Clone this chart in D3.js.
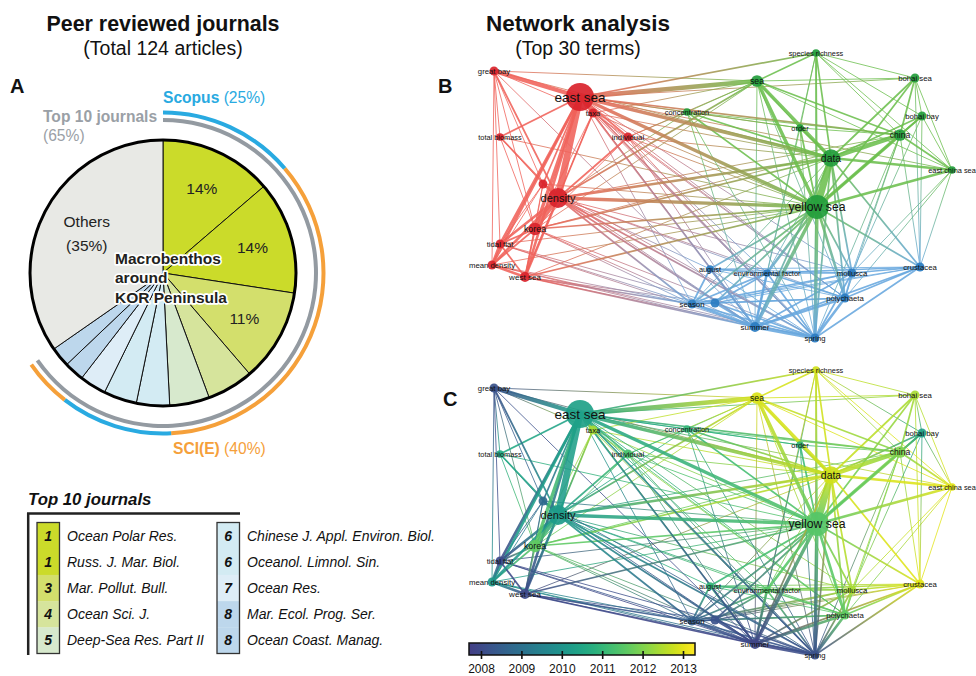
<!DOCTYPE html>
<html>
<head>
<meta charset="utf-8">
<script src="https://cdn.jsdelivr.net/npm/d3@7"></script>
<style>
  body { margin: 0; background: #fff; }
  svg text { font-family: "Liberation Sans", Arial, sans-serif; }
</style>
</head>
<body>
<svg id="chart" width="976" height="676"></svg>
<script>
// ---- panel A data (124 articles) ----
const journals = ["Ocean Polar Res.", "Russ. J. Mar. Biol.", "Mar. Pollut. Bull.", "Ocean Sci. J.",
  "Deep-Sea Res. Part II", "Chinese J. Appl. Environ. Biol.", "Oceanol. Limnol. Sin.", "Ocean Res.",
  "Mar. Ecol. Prog. Ser.", "Ocean Coast. Manag."];
const ranks = [1, 1, 3, 4, 5, 6, 6, 7, 8, 8];
const articles = [17, 17, 14, 7, 6, 5, 5, 4, 3, 3];
const journalIndex = ["Scopus", "SCI(E)", "SCI(E)", "SCI(E)", "SCI(E)", "Scopus", "Scopus", "Scopus", "SCI(E)", "SCI(E)"];
const othersArticles = 43;

// ---- panel B/C data (top 30 terms, VOSviewer map units) ----
const termKeys = ["es", "gb", "tb", "tx", "in", "co", "ds", "un1", "ko", "tf", "md", "ws",
  "se", "un2", "au", "ef", "mo", "po", "cr", "su", "sp",
  "ys", "da", "ch", "ec", "bb", "bs", "or", "sa", "sr"];
const termLabels = ["east sea", "great bay", "total biomass", "taxa", "individual", "concentration", "density", null,
  "korea", "tidal flat", "mean density", "west sea",
  "season", null, "august", "environmental factor", "mollusca", "polychaeta", "crustacea", "summer", "spring",
  "yellow sea", "data", "china", "east china sea", "bohai bay", "bohai sea", "order", "sea", "species richness"];
const termMapX = [120, 34, 40, 133, 168, 227, 98, 83, 75, 40, 32, 65,
  232, 255, 250, 307, 392, 385, 460, 295, 355,
  357, 371, 440, 492, 462, 455, 340, 297, 356];
const termMapY = [47, 21, 87, 63, 87, 62, 148, 134, 179, 194, 215, 227,
  254, 253, 219, 223, 223, 248, 217, 277, 288,
  157, 108, 85, 120, 66, 28, 78, 31, 3];
const termOccurrences = [40, 4, 3, 4, 4, 3, 20, 4, 8, 4, 4, 5,
  4, 4, 3, 3, 4, 4, 4, 5, 4,
  29, 16, 7, 3, 4, 4, 3, 7, 3];
const termCluster = [1, 1, 1, 1, 1, 2, 1, 1, 1, 1, 1, 1,
  3, 3, 3, 3, 3, 3, 3, 3, 3,
  2, 2, 2, 2, 2, 2, 2, 2, 2];
const termAvgYear = [2010.35, 2008.2, 2010.6, 2012.4, 2011.3, 2011.0, 2010.2, 2008.8, 2011.6, 2008.0, 2010.1, 2008.0,
  2008.5, 2008.2, 2011.0, 2011.5, 2012.4, 2011.6, 2013.0, 2007.9, 2008.2,
  2011.5, 2012.8, 2012.0, 2013.0, 2010.3, 2012.4, 2011.0, 2012.9, 2012.8];

const links = [
  // red cluster
  ["es","ds",8],["es","gb",5],["es","tx",3],["es","in",2],["es","tb",2],["es","ko",4],["es","tf",3],["es","md",3],["es","ws",3],["es","un1",2],
  ["gb","tb",1],["gb","ds",2],["gb","ko",1],["gb","un1",1],["gb","md",1],["gb","tf",1],["gb","tx",1],
  ["tb","ds",2],["tb","ko",1],["tb","un1",1],
  ["tx","ds",2],["tx","ko",1],["tx","ws",1],["tx","in",1],
  ["in","ds",2],["in","ko",1],
  ["ds","ko",5],["ds","tf",3],["ds","md",3],["ds","ws",3],["ds","un1",2],
  ["ko","tf",2],["ko","md",2],["ko","ws",2],["ko","un1",1],
  ["tf","md",3],["tf","ws",2],["md","ws",3],["un1","tf",1],["un1","md",1],["un1","ws",1],
  // green cluster
  ["da","ys",8],["da","sa",4],["da","ch",5],["da","or",2],["da","sr",2],["da","bs",2],["da","bb",2],["da","ec",3],["da","co",2],
  ["ys","sa",4],["ys","ch",4],["ys","bs",2],["ys","bb",2],["ys","ec",3],["ys","or",2],["ys","sr",2],["ys","co",2],
  ["sa","sr",2],["sa","bs",1],["sa","ch",2],["sa","or",1],["sa","co",1],["sa","ec",1],
  ["sr","bs",1],["sr","ch",1],["sr","or",1],["sr","ec",1],["sr","bb",1],
  ["ch","bs",2],["ch","bb",2],["ch","ec",2],["ch","or",1],["bs","bb",1],["bs","ec",1],["bb","ec",1],["co","ch",1],["co","or",1],
  // blue cluster
  ["su","sp",4],["su","se",3],["su","au",2],["su","ef",3],["su","mo",2],["su","po",3],["su","cr",2],["su","un2",2],
  ["sp","se",2],["sp","au",1],["sp","ef",2],["sp","mo",2],["sp","po",3],["sp","cr",2],["sp","un2",2],
  ["se","au",2],["se","ef",2],["se","mo",2],["se","po",2],["se","cr",1],["se","un2",2],
  ["au","ef",2],["au","mo",1],["au","po",1],["au","cr",1],
  ["un2","ef",2],["un2","mo",1],["un2","po",1],["un2","cr",1],
  ["ef","mo",2],["ef","po",2],["ef","cr",2],["mo","po",2],["mo","cr",2],["po","cr",2],
  // red - green
  ["es","sa",5],["es","da",4],["es","ys",4],["es","co",1],["es","sr",2],["es","ch",2],["es","or",1],["es","bs",1],["es","ec",1],
  ["ds","ys",4],["ds","da",3],["ds","sa",2],["ds","ch",1],["ds","co",1],
  ["ko","ys",2],["ko","da",2],["ko","sa",1],["ko","ch",1],
  ["tx","sa",1],["tx","da",1],["tx","ys",1],["in","ys",1],["in","da",1],["in","sa",1],["in","co",1],
  ["ws","ys",2],["ws","da",1],["md","ys",1],["tf","ys",1],["gb","sa",1],["gb","da",1],["tb","ys",1],["un1","ys",1],
  // red - blue
  ["ds","su",2],["ds","sp",2],["ds","se",2],["ds","ef",1],["ds","po",1],["ds","mo",1],["ds","au",1],
  ["ko","su",1],["ko","se",1],["ko","sp",1],
  ["ws","su",2],["ws","sp",1],["ws","se",2],["ws","un2",1],
  ["md","su",1],["md","se",1],["md","sp",1],["tf","su",1],["tf","se",1],["tf","un2",1],
  ["es","su",2],["es","sp",2],["es","po",1],["es","se",1],["es","ef",1],["es","mo",1],
  ["tx","su",1],["tx","sp",1],["tx","po",1],["in","su",1],["in","sp",1],["in","po",1],
  ["gb","su",1],["un1","su",1],["un1","sp",1],
  // green - blue
  ["ys","su",4],["ys","sp",4],["ys","po",3],["ys","mo",2],["ys","cr",2],["ys","ef",3],["ys","se",2],["ys","au",2],["ys","un2",2],
  ["da","su",2],["da","sp",2],["da","po",2],["da","mo",2],["da","cr",2],["da","ef",1],["da","se",1],
  ["ch","cr",1],["ch","po",1],["ch","mo",1],["ch","sp",1],["ec","cr",1],["ec","po",1],["ec","mo",1],
  ["bb","cr",1],["bb","mo",1],["bs","cr",1],["sr","sp",1],["sr","su",1],["sa","su",1],["sa","sp",1],["sa","po",1],
  ["or","su",1],["or","sp",1],["co","su",1],["co","sp",1]
];

const colorbarYears = [2008, 2009, 2010, 2011, 2012, 2013];

// ---------------------------------------------------------------
const svg = d3.select("#chart");
const defs = svg.append("defs");

// titles
function title(x, y1, t1, t2, s1) {
  svg.append("text").attr("x", x).attr("y", y1).attr("text-anchor", "middle")
    .attr("font-size", s1).attr("font-weight", "bold").attr("fill", "#111").text(t1);
  svg.append("text").attr("x", x).attr("y", y1 + 24).attr("text-anchor", "middle")
    .attr("font-size", 19.5).attr("fill", "#111").text(t2);
}
title(163, 31, "Peer reviewed journals", `(Total ${d3.sum(articles) + othersArticles} articles)`, 21.4);
title(578, 31, "Network analysis", `(Top ${termKeys.length} terms)`, 22.5);

[["A", 10, 93], ["B", 438, 93], ["C", 443, 406]].forEach(([t, x, y]) => {
  svg.append("text").attr("x", x).attr("y", y).attr("font-size", 20).attr("font-weight", "bold").attr("fill", "#111").text(t);
});

// ---- pie ----
const cx = 163, cy = 273, R = 133;
const total = d3.sum(articles) + othersArticles;
const pieData = journals.map((j, i) => ({ name: j, rank: ranks[i], n: articles[i], db: journalIndex[i] }))
  .concat([{ name: "Others", rank: 0, n: othersArticles, db: null }]);
const arcs = d3.pie().sort(null).value(d => d.n)(pieData);

const rankColor = d3.scaleOrdinal()
  .domain([0, 1, 3, 4, 5, 6, 7, 8])
  .range(["#e8e9e5", "#cbdb2a", "#d3df6c", "#d6e49c", "#d7e9cd", "#d3ebf3", "#deedf7", "#bdd7ec"]);
const dbColor = { "Scopus": "#29aae1", "SCI(E)": "#f5a03a" };

const gA = svg.append("g").attr("transform", `translate(${cx},${cy})`);
const arc = d3.arc().innerRadius(0).outerRadius(R);
gA.selectAll("path.slice").data(arcs).join("path")
  .attr("class", "slice")
  .attr("d", arc)
  .attr("fill", d => rankColor(d.data.rank))
  .attr("stroke", "#111").attr("stroke-width", 1).attr("stroke-linejoin", "round");
gA.append("circle").attr("r", R).attr("fill", "none").attr("stroke", "#000").attr("stroke-width", 3);

const labelArc = d3.arc().innerRadius(93).outerRadius(93);
gA.selectAll("text.pct").data(arcs.filter(d => d.data.db && d.data.n / total >= 0.1)).join("text")
  .attr("class", "pct")
  .attr("transform", d => `translate(${labelArc.centroid(d)})`)
  .attr("text-anchor", "middle").attr("dy", "0.35em")
  .attr("font-size", 15.5).attr("fill", "#222")
  .text(d => `${Math.round(d.data.n / total * 100)}%`);

const othersArc = arcs[arcs.length - 1];
const oc = d3.arc().innerRadius(86).outerRadius(86).centroid(othersArc);
const othersText = gA.append("text").attr("text-anchor", "middle").attr("font-size", 15.5).attr("fill", "#222");
othersText.append("tspan").attr("x", oc[0]).attr("y", oc[1] - 6).text("Others");
othersText.append("tspan").attr("x", oc[0]).attr("y", oc[1] + 18).text(`(${Math.round(othersArticles / total * 100)}%)`);

// centre caption with white halo
const cap = svg.append("text").attr("font-size", 15.5).attr("font-weight", "bold").attr("fill", "#231f20")
  .attr("stroke", "#fff").attr("stroke-width", 3.5).attr("paint-order", "stroke").attr("stroke-linejoin", "round");
["Macrobenthos", "around", "KOR Peninsula"].forEach((t, i) => {
  cap.append("tspan").attr("x", 115).attr("y", 264 + i * 19.3).text(t);
});

// outer rings
const top10 = arcs.filter(d => d.data.db);
const ring = d3.arc();
gA.append("path")
  .attr("d", ring({ innerRadius: 151, outerRadius: 155, startAngle: top10[0].startAngle, endAngle: top10[top10.length - 1].endAngle }))
  .attr("fill", "#939aa1");
const dbGroups = [];
top10.forEach(a => {
  const g = dbGroups[dbGroups.length - 1];
  if (g && g.db === a.data.db) g.end = a.endAngle;
  else dbGroups.push({ db: a.data.db, start: a.startAngle, end: a.endAngle });
});
gA.selectAll("path.db").data(dbGroups).join("path")
  .attr("class", "db")
  .attr("d", d => ring({ innerRadius: 158.5, outerRadius: 162.5, startAngle: d.start, endAngle: d.end }))
  .attr("fill", d => dbColor[d.db]);

const share = db => Math.round(d3.sum(top10.filter(a => a.data.db === db), a => a.data.n) / total * 100);
const scop = svg.append("text").attr("x", 163).attr("y", 103).attr("font-size", 15.6).attr("fill", dbColor["Scopus"]);
scop.append("tspan").attr("font-weight", "bold").text("Scopus");
scop.append("tspan").text(` (${share("Scopus")}%)`);
const sci = svg.append("text").attr("x", 173).attr("y", 454).attr("font-size", 15.6).attr("fill", dbColor["SCI(E)"]);
sci.append("tspan").attr("font-weight", "bold").text("SCI(E)");
sci.append("tspan").text(` (${share("SCI(E)")}%)`);
svg.append("text").attr("x", 43).attr("y", 122).attr("font-size", 15.6).attr("font-weight", "bold").attr("fill", "#9aa0a6")
  .text("Top 10 journals");
svg.append("text").attr("x", 43).attr("y", 141).attr("font-size", 15.6).attr("fill", "#9aa0a6")
  .text(`(${Math.round(d3.sum(articles) / total * 100)}%)`);

// ---- legend table ----
svg.append("text").attr("x", 28).attr("y", 505).attr("font-size", 16.8).attr("font-weight", "bold")
  .attr("font-style", "italic").attr("fill", "#111").text("Top 10 journals");
svg.append("path").attr("d", "M27,513.5H240M28.2,513V655").attr("fill", "none").attr("stroke", "#222").attr("stroke-width", 2.5);

const rowH = 26.2, rowTop = 522.5;
[0, 1].forEach(col => {
  const bx = col === 0 ? 37 : 217;
  const items = journals.slice(col * 5, col * 5 + 5).map((j, k) => ({ name: j, rank: ranks[col * 5 + k] }));
  const g = svg.append("g");
  g.selectAll("rect.cell").data(items).join("rect")
    .attr("x", bx).attr("y", (d, k) => rowTop + k * rowH).attr("width", 22.5).attr("height", rowH + 0.3)
    .attr("fill", d => rankColor(d.rank));
  g.append("rect").attr("x", bx).attr("y", rowTop).attr("width", 22.5).attr("height", rowH * 5)
    .attr("fill", "none").attr("stroke", "#333").attr("stroke-width", 1.3);
  g.selectAll("text.rk").data(items).join("text")
    .attr("x", bx + 11.2).attr("y", (d, k) => rowTop + k * rowH + rowH / 2).attr("dy", "0.36em")
    .attr("text-anchor", "middle").attr("font-size", 14).attr("font-weight", "bold").attr("font-style", "italic")
    .attr("fill", "#111").text(d => d.rank);
  g.selectAll("text.jn").data(items).join("text")
    .attr("x", bx + 30).attr("y", (d, k) => rowTop + k * rowH + rowH / 2).attr("dy", "0.36em")
    .attr("font-size", 14).attr("font-style", "italic").attr("fill", "#111").text(d => d.name);
});

// ---- networks ----
const nodes = termKeys.map((k, i) => ({
  key: k, label: termLabels[i], mx: termMapX[i], my: termMapY[i],
  occ: termOccurrences[i], cluster: termCluster[i], year: termAvgYear[i]
}));
const nodeByKey = new Map(nodes.map(n => [n.key, n]));
const linkData = links.map(([s, t, w]) => ({ source: nodeByKey.get(s), target: nodeByKey.get(t), w }))
  .sort((a, b) => a.w - b.w);

const xMap = d3.scaleLinear().domain([0, 500]).range([460, 960]);
const rScale = d3.scaleSqrt().domain([0, 40]).range([0, 14]);
const fontScale = d3.scaleLinear().domain([Math.sqrt(3), Math.sqrt(40)]).range([7.4, 13.5]);
const wScale = d3.scaleLinear().domain([1, 8]).range([0.9, 6.8]);

const clusterNode = { 1: "#d9232b", 2: "#239d3c", 3: "#2a7cc1" };
const clusterEdge = { 1: "#f0625a", 2: "#6cbf4e", 3: "#67a7de" };

const yearT = d3.scaleLinear().domain([2007.7, 2013.3]).range([0.18, 1]).clamp(true);
const yearColor = y => d3.interpolateViridis(yearT(y));

function drawNetwork(id, yTop, nodeColor, edgeColor) {
  const yMap = d3.scaleLinear().domain([0, 300]).range([yTop, yTop + 300]);
  const g = svg.append("g").attr("id", id);
  linkData.forEach((l, i) => {
    const gid = `${id}-g${i}`;
    const grad = defs.append("linearGradient").attr("id", gid).attr("gradientUnits", "userSpaceOnUse")
      .attr("x1", xMap(l.source.mx)).attr("y1", yMap(l.source.my))
      .attr("x2", xMap(l.target.mx)).attr("y2", yMap(l.target.my));
    grad.append("stop").attr("offset", "0%").attr("stop-color", edgeColor(l.source));
    grad.append("stop").attr("offset", "100%").attr("stop-color", edgeColor(l.target));
  });
  g.append("g").selectAll("line").data(linkData).join("line")
    .attr("x1", d => xMap(d.source.mx)).attr("y1", d => yMap(d.source.my))
    .attr("x2", d => xMap(d.target.mx)).attr("y2", d => yMap(d.target.my))
    .attr("stroke", (d, i) => `url(#${id}-g${i})`)
    .attr("stroke-width", d => wScale(d.w))
    .attr("stroke-opacity", 0.88)
    .attr("stroke-linecap", "round");
  g.append("g").selectAll("circle").data(nodes.slice().sort((a, b) => b.occ - a.occ)).join("circle")
    .attr("cx", d => xMap(d.mx)).attr("cy", d => yMap(d.my))
    .attr("r", d => rScale(d.occ))
    .attr("fill", nodeColor)
    .attr("fill-opacity", 0.92);
  g.append("g").selectAll("text").data(nodes.filter(d => d.label)).join("text")
    .attr("x", d => xMap(d.mx)).attr("y", d => yMap(d.my)).attr("dy", "0.35em")
    .attr("text-anchor", "middle")
    .attr("font-size", d => fontScale(Math.sqrt(d.occ)))
    .attr("fill", "#111")
    .text(d => d.label);
}

drawNetwork("netB", 50, d => clusterNode[d.cluster], d => clusterEdge[d.cluster]);
drawNetwork("netC", 367, d => yearColor(d.year), d => yearColor(d.year));

// ---- colour bar ----
const barX = d3.scaleLinear().domain([2008, 2013]).range([481, 683]);
const bar0 = barX.invert(469), bar1 = barX.invert(695);
const cg = defs.append("linearGradient").attr("id", "viridisBar");
d3.range(0, 1.0001, 0.05).forEach(f => {
  cg.append("stop").attr("offset", `${f * 100}%`).attr("stop-color", yearColor(bar0 + f * (bar1 - bar0)));
});
svg.append("rect").attr("x", 469).attr("y", 643).attr("width", 226).attr("height", 12)
  .attr("fill", "url(#viridisBar)").attr("stroke", "#111").attr("stroke-width", 1.5);
const axis = svg.append("g").attr("transform", "translate(0,651)")
  .call(d3.axisBottom(barX).tickValues(colorbarYears).tickFormat(d3.format("d")).tickSize(8).tickPadding(5));
axis.select(".domain").remove();
axis.selectAll(".tick line").attr("stroke", "#111").attr("stroke-width", 1.6);
axis.selectAll(".tick text").attr("font-size", 12).attr("fill", "#111")
  .attr("font-family", "'Liberation Sans', Arial, sans-serif");
</script>
</body>
</html>
